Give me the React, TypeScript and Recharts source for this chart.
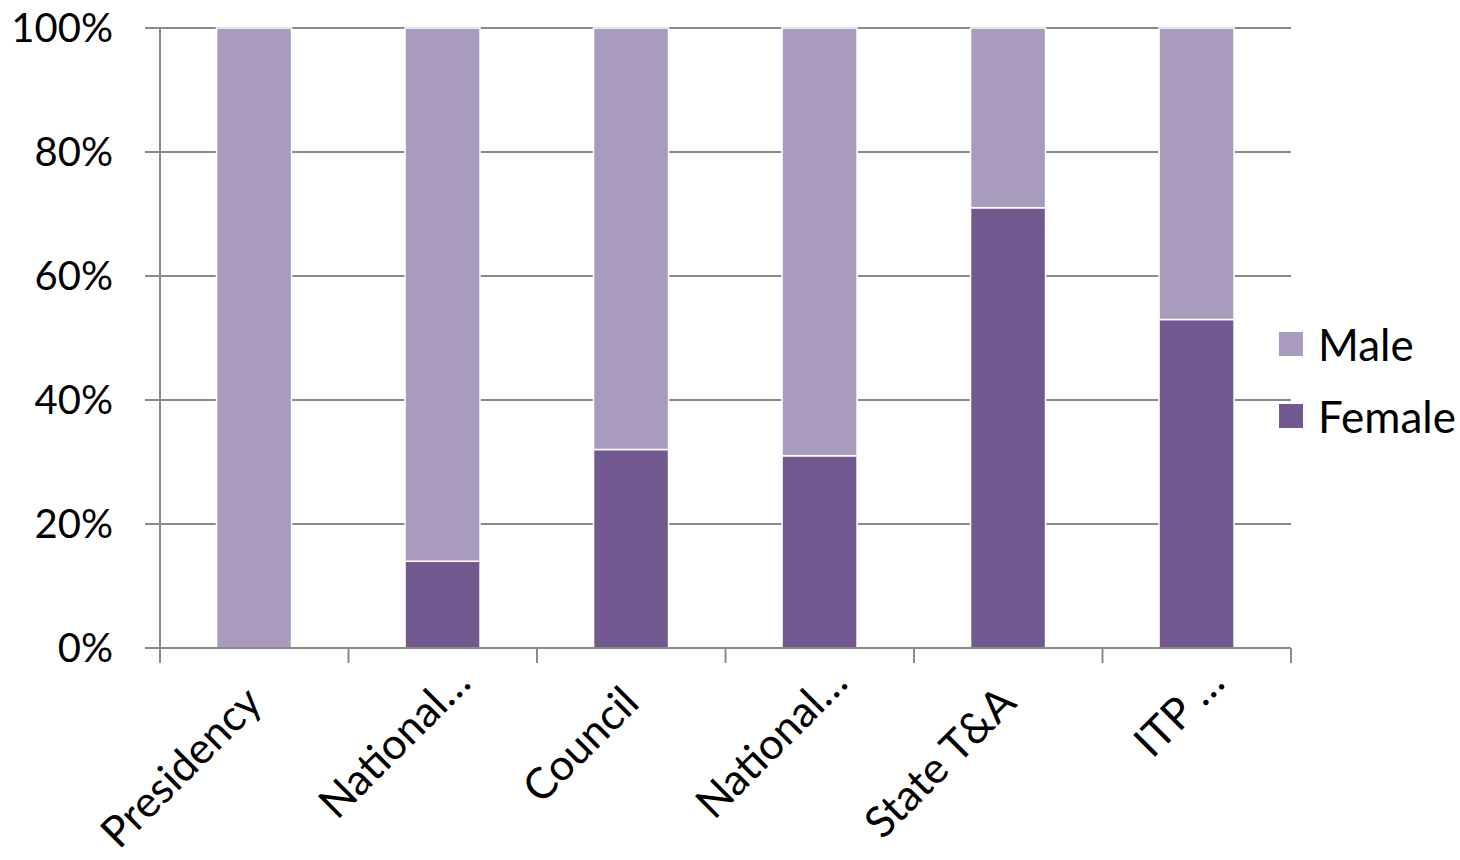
import { Bar, BarChart, CartesianGrid, XAxis, YAxis } from "recharts";

const categories = ["Presidency", "National…", "Council", "National…", "State T&A", "ITP …"];
const femaleShare = [0, 14, 32, 31, 71, 53];
const maleShare = [100, 86, 68, 69, 29, 47];
const yTicks = [0, 20, 40, 60, 80, 100];

const MALE_COLOR = "#A99BBD";
const FEMALE_COLOR = "#71588F";
const AXIS_COLOR = "#8a8a8a";
const FONT = "Lato, 'Open Sans', sans-serif";

const data = categories.map((name, i) => ({
  name,
  female: femaleShare[i],
  male: maleShare[i],
}));

const legendItems = [
  { label: "Male", color: MALE_COLOR },
  { label: "Female", color: FEMALE_COLOR },
];

// category labels sit between boundary ticks, rotated like Excel does it
function CategoryTick(props: any) {
  const { x, y, payload, index, visibleTicksCount } = props;
  const half = payload?.offset ?? 94.25;
  const last = index === (visibleTicksCount ?? categories.length) - 1;
  const label = String(payload.value);
  const shift = label.endsWith("…") ? 20 : 0;
  const tx = x + 10 + shift;
  const ty = y + 42 - shift;
  return (
    <g>
      <line x1={x - half} x2={x - half} y1={y - 15} y2={y} stroke={AXIS_COLOR} strokeWidth={2} />
      {last && (
        <line x1={x + half} x2={x + half} y1={y - 15} y2={y} stroke={AXIS_COLOR} strokeWidth={2} />
      )}
      <text
        x={tx}
        y={ty}
        textAnchor="end"
        transform={`rotate(-45 ${tx} ${ty})`}
        fontSize={43}
        fontFamily={FONT}
        fill="#000"
      >
        {label}
      </text>
    </g>
  );
}

export default function App() {
  return (
    <div style={{ position: "absolute", left: 0, top: 0, width: 1460, height: 860, background: "#fff" }}>
      <BarChart
        width={1460}
        height={860}
        data={data}
        margin={{ top: 28, right: 169, bottom: 0, left: 0 }}
        barCategoryGap="30%"
      >
        <CartesianGrid vertical={false} stroke={AXIS_COLOR} strokeWidth={2} />
        <XAxis
          dataKey="name"
          height={212}
          interval={0}
          tickLine={false}
          tickSize={15}
          tickMargin={0}
          axisLine={{ stroke: AXIS_COLOR, strokeWidth: 2 }}
          tick={<CategoryTick />}
        />
        <YAxis
          width={160}
          domain={[0, 100]}
          ticks={yTicks}
          tickFormatter={(v: number) => `${v}%`}
          tickSize={15}
          tickMargin={32}
          axisLine={{ stroke: AXIS_COLOR, strokeWidth: 2 }}
          tickLine={{ stroke: AXIS_COLOR, strokeWidth: 2 }}
          tick={{ fontSize: 40, fontFamily: FONT, fill: "#000" }}
        />
        <Bar dataKey="female" stackId="a" fill={FEMALE_COLOR} stroke="#fff" strokeWidth={1.5} isAnimationActive={false} />
        <Bar dataKey="male" stackId="a" fill={MALE_COLOR} stroke="#fff" strokeWidth={1.5} isAnimationActive={false} />
      </BarChart>
      <div style={{ position: "absolute", left: 1279, top: 308, fontFamily: FONT, fontSize: 44, color: "#000" }}>
        {legendItems.map((item) => (
          <div key={item.label} style={{ display: "flex", alignItems: "center", height: 72 }}>
            <span style={{ width: 24, height: 24, background: item.color, marginRight: 15, display: "inline-block" }} />
            <span>{item.label}</span>
          </div>
        ))}
      </div>
    </div>
  );
}
